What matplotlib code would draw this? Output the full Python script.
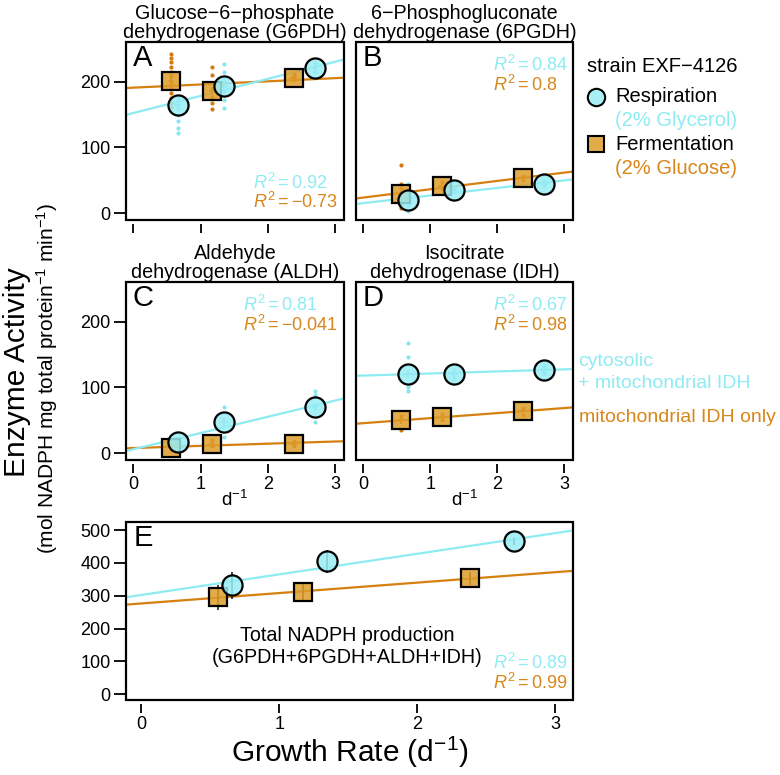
import numpy as np
import matplotlib
matplotlib.use('Agg')
import matplotlib.pyplot as plt
from matplotlib.lines import Line2D
from matplotlib.patches import Rectangle

plt.rcParams['font.family'] = ['Liberation Sans', 'DejaVu Sans']
plt.rcParams['mathtext.fontset'] = 'custom'
plt.rcParams['mathtext.rm'] = 'Liberation Sans'
plt.rcParams['mathtext.it'] = 'Liberation Sans:italic'
plt.rcParams['mathtext.bf'] = 'Liberation Sans:bold'

# ---------------- data ----------------
resp_rate = [0.66, 1.35, 2.70]     # growth rate (d^-1), respiration
ferm_rate = [0.56, 1.17, 2.38]     # growth rate (d^-1), fermentation

g6pdh_resp = [165, 194, 220]
g6pdh_ferm = [201, 185, 206]
pgdh_resp = [20, 36, 45]
pgdh_ferm = [29, 42, 53]
aldh_resp = [17, 48, 70]
aldh_ferm = [8, 15, 15]
idh_resp = [121, 121, 127]
idh_ferm = [50, 55, 64]
total_resp = [332, 405, 466]
total_ferm = [296, 311, 353]

total_resp_err = [41, 36, 10]
total_ferm_err = [38, 26, 20]

# replicate measurements (one list per growth condition)
g6pdh_resp_reps = [[175, 160, 150, 140, 130, 122], [226, 214, 203, 186, 172, 160], [228, 222, 214]]
g6pdh_ferm_reps = [[242, 236, 229, 222, 215, 208, 198, 190, 182, 175, 168, 162], [222, 210, 198, 188, 176, 167, 158], [212, 208, 202]]
pgdh_resp_reps = [[44, 35, 25, 12, 3], [40, 33], [49, 42]]
pgdh_ferm_reps = [[74, 45, 38, 30, 22, 15, 8], [47, 38], [57, 50]]
aldh_resp_reps = [[22, 13], [70, 25], [95, 89, 48]]
aldh_ferm_reps = [[12, 5], [20, 11], [19, 11]]
idh_resp_reps = [[168, 146, 100, 95], [128, 115], [132, 122]]
idh_ferm_reps = [[36, 56], [60, 50], [69, 59]]

r2_text = {
    'A': ('0.92', '-0.73'),
    'B': ('0.84', '0.8'),
    'C': ('0.81', '-0.041'),
    'D': ('0.67', '0.98'),
    'E': ('0.89', '0.99'),
}

titles = {
    'A': 'Glucose\u22126\u2212phosphate\ndehydrogenase (G6PDH)',
    'B': '6\u2212Phosphogluconate\ndehydrogenase (6PGDH)',
    'C': 'Aldehyde\ndehydrogenase (ALDH)',
    'D': 'Isocitrate\ndehydrogenase (IDH)',
}

# ---------------- style ----------------
CYAN_LINE = '#8DEBF2'
CYAN_FILL = (0.60, 0.93, 0.96, 0.85)
CYAN_DOT = '#86E6EE'
CYAN_TEXT = '#8EEBF3'
ORANGE_LINE = '#D6800F'
ORANGE_FILL = (0.87, 0.62, 0.17, 0.85)
ORANGE_DOT = '#D07A10'
ORANGE_TEXT = '#D8861A'

W, H = 780, 775
fig = plt.figure(figsize=(W / 100, H / 100), dpi=100)


def box(l, t, r, b):
    return [l / W, 1 - b / H, (r - l) / W, (b - t) / H]


axA = fig.add_axes(box(126, 42, 344, 220))
axB = fig.add_axes(box(356, 42, 573, 220))
axC = fig.add_axes(box(126, 282, 344, 460))
axD = fig.add_axes(box(356, 282, 573, 460))
axE = fig.add_axes(box(126, 522, 573, 700))

XLIM = (-0.11, 3.13)


def style(ax, ylim, yticks, show_y, show_xlabels):
    ax.set_xlim(*XLIM)
    ax.set_ylim(*ylim)
    for s in ax.spines.values():
        s.set_visible(False)
    ax.add_patch(Rectangle((0, 0), 1, 1, transform=ax.transAxes, fill=False,
                           lw=1.6, ec='black', clip_on=False, zorder=10))
    ax.spines['bottom'].set_position(('outward', 3))
    ax.set_xticks([0, 1, 2, 3])
    ax.tick_params(axis='x', direction='out', length=6.5, width=1.3,
                   labelsize=13, pad=2, labelbottom=show_xlabels)
    if show_y:
        ax.set_yticks(yticks)
        ax.tick_params(axis='y', direction='out', length=9, width=1.3,
                       labelsize=13, pad=2)
    else:
        ax.tick_params(axis='y', left=False, labelleft=False)


def draw_series(ax, x, y, reps, yerr, xerr, marker, fill, line_c, dot_c, err_c, ms):
    coef = np.polyfit(x, y, 1)
    xs = np.array(XLIM)
    ax.plot(xs, np.polyval(coef, xs), color=line_c, lw=1.6, zorder=2)
    if reps is not None:
        for xi, rv in zip(x, reps):
            ax.plot([xi] * len(rv), rv, 'o', ms=3, color=dot_c, mec='none', zorder=3)
    ax.errorbar(x, y, yerr=yerr, xerr=xerr, fmt='none', ecolor=err_c,
                elinewidth=1.2, capsize=0, zorder=4)
    ax.plot(x, y, marker, ms=ms, mfc=fill, mec='black', mew=1.6, ls='none', zorder=5)


def r2(ax, key, x, y1, y2):
    c, o = r2_text[key]
    ax.text(x, y1, r'$R^2 = %s$' % c, transform=ax.transAxes, color=CYAN_TEXT,
            fontsize=13, ha='left', va='center')
    ax.text(x, y2, r'$R^2 = %s$' % o, transform=ax.transAxes, color=ORANGE_TEXT,
            fontsize=13, ha='left', va='center')


small_y = [6, 6, 6]
small_x = [0.05, 0.05, 0.05]

panels = [
    (axA, 'A', g6pdh_resp, g6pdh_ferm, g6pdh_resp_reps, g6pdh_ferm_reps, True, False, (0.583, 0.21, 0.10)),
    (axB, 'B', pgdh_resp, pgdh_ferm, pgdh_resp_reps, pgdh_ferm_reps, False, False, (0.631, 0.871, 0.758)),
    (axC, 'C', aldh_resp, aldh_ferm, aldh_resp_reps, aldh_ferm_reps, True, True, (0.537, 0.871, 0.758)),
    (axD, 'D', idh_resp, idh_ferm, idh_resp_reps, idh_ferm_reps, False, True, (0.631, 0.871, 0.758)),
]

for ax, key, yr, yf, rr, rf, showy, showx, (rx, ry1, ry2) in panels:
    style(ax, (-10, 260), [0, 100, 200], showy, showx)
    draw_series(ax, ferm_rate, yf, rf, small_y, small_x, 's', ORANGE_FILL,
                ORANGE_LINE, ORANGE_DOT, '#C8720A', 13)
    draw_series(ax, resp_rate, yr, rr, small_y, small_x, 'o', CYAN_FILL,
                CYAN_LINE, CYAN_DOT, '#6FD6DE', 14.5)
    ax.set_title(titles[key], fontsize=14.2, pad=3, linespacing=1.0)
    ax.text(0.03, 0.91, key, transform=ax.transAxes, fontsize=21, ha='left', va='center')
    r2(ax, key, rx, ry1, ry2)
    if showx:
        ax.set_xlabel('d$^{-1}$', fontsize=13.5, labelpad=-2)

# panel E
style(axE, (-18, 525), [0, 100, 200, 300, 400, 500], True, True)
draw_series(axE, ferm_rate, total_ferm, None, total_ferm_err, None, 's', ORANGE_FILL,
            ORANGE_LINE, ORANGE_DOT, '#222222', 13)
draw_series(axE, resp_rate, total_resp, None, total_resp_err, None, 'o', CYAN_FILL,
            CYAN_LINE, CYAN_DOT, '#222222', 14.5)
axE.text(0.016, 0.91, 'E', transform=axE.transAxes, fontsize=21, ha='left', va='center')
axE.text(0.494, 0.30, 'Total NADPH production\n(G6PDH+6PGDH+ALDH+IDH)',
         transform=axE.transAxes, fontsize=14.2, ha='center', va='center', linespacing=1.15)
r2(axE, 'E', 0.821, 0.208, 0.096)
axE.set_xlabel('Growth Rate (d$^{-1}$)', fontsize=21.5, labelpad=1)

# y-axis labels
fig.text(17 / W, 1 - 372 / H, 'Enzyme Activity', rotation=90, fontsize=21.5,
         ha='center', va='center')
fig.text(47 / W, 1 - 378 / H, '(mol NADPH mg total protein$^{-1}$ min$^{-1}$)',
         rotation=90, fontsize=15, ha='center', va='center')

# legend
def ft(x, y, s, **kw):
    fig.text(x / W, 1 - y / H, s, va='center', ha='left', **kw)

ft(587, 67, 'strain EXF\u22124126', fontsize=14.5)
fig.add_artist(Line2D([596 / W], [1 - 97 / H], marker='o', ms=12.5, mfc=CYAN_FILL,
                      mec='black', mew=1.5, ls='none', transform=fig.transFigure))
fig.add_artist(Line2D([596 / W], [1 - 144 / H], marker='s', ms=11.5, mfc=ORANGE_FILL,
                      mec='black', mew=1.5, ls='none', transform=fig.transFigure))
ft(615, 97, 'Respiration', fontsize=14.5)
ft(615, 121, '(2% Glycerol)', fontsize=14.5, color=CYAN_TEXT)
ft(615, 144, 'Fermentation', fontsize=14.5)
ft(615, 168, '(2% Glucose)', fontsize=14.5, color=ORANGE_TEXT)

# right labels for panel D
ft(578, 362, 'cytosolic', fontsize=14, color=CYAN_TEXT)
ft(578, 384, '+ mitochondrial IDH', fontsize=14, color=CYAN_TEXT)
ft(579, 418, 'mitochondrial IDH only', fontsize=14, color=ORANGE_TEXT)

fig.savefig('out.png', dpi=100)
